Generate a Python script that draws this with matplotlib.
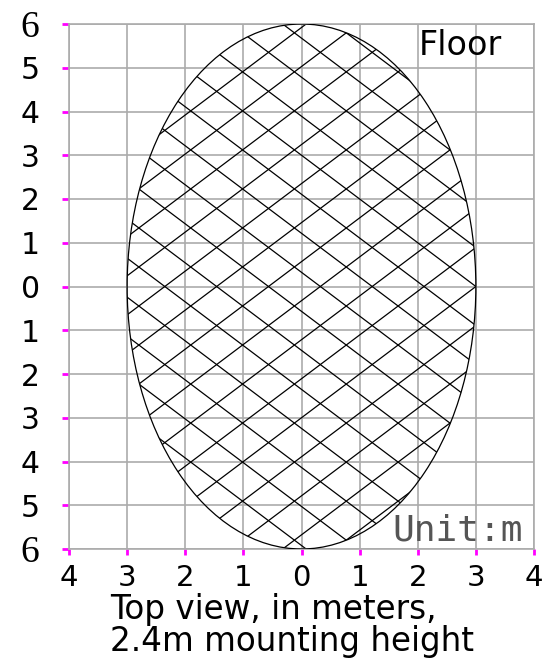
import numpy as np
import matplotlib
matplotlib.use("Agg")
import matplotlib.pyplot as plt
from matplotlib.patches import Ellipse

# beam footprint (meters)
semi_x = 3.0
semi_y = 6.0
hatch_step = 0.892

x_ticks = [-4, -3, -2, -1, 0, 1, 2, 3, 4]
x_labels = ["4", "3", "2", "1", "0", "1", "2", "3", "4"]
y_ticks = [6, 5, 4, 3, 2, 1, 0, -1, -2, -3, -4, -5, -6]
y_labels = ["6", "5", "4", "3", "2", "1", "0", "1", "2", "3", "4", "5", "6"]

plt.rcParams['font.family'] = ['DejaVu Sans']

W, H = 555, 661
fig = plt.figure(figsize=(W / 100, H / 100), dpi=100)
ax = fig.add_axes([69 / W, 1 - 549 / H, (534 - 69) / W, (549 - 24) / H])
ax.set_xlim(-4, 4)
ax.set_ylim(-6, 6)

gray = "#ababab"
for v in x_ticks:
    ax.axvline(v, color=gray, lw=1.2, zorder=1)
for v in y_ticks:
    ax.axhline(v, color=gray, lw=1.2, zorder=1)
for s in ax.spines.values():
    s.set_color(gray)
    s.set_linewidth(1.2)

# ellipse outline
ell = Ellipse((0, 0), 2 * semi_x, 2 * semi_y, fill=False, ec="black", lw=0.9, zorder=3)
ax.add_patch(ell)

# cross hatching clipped to the ellipse
clip = Ellipse((0, 0), 2 * semi_x, 2 * semi_y, fill=False, ec="none", transform=ax.transData)
ax.add_patch(clip)
xs = np.array([-5.0, 5.0])
for k in range(-20, 21):
    a = -semi_x + k * hatch_step
    ln, = ax.plot(xs, xs + a, color="black", lw=0.9, zorder=2)
    ln.set_clip_path(clip)
    b = semi_x + k * hatch_step
    ln, = ax.plot(xs, -xs + b, color="black", lw=0.9, zorder=2)
    ln.set_clip_path(clip)

ax.set_xticks(x_ticks)
ax.set_xticklabels(x_labels, fontsize=21)
ax.set_yticks(y_ticks)
ax.set_yticklabels(y_labels, fontsize=21.5, ha="center")
ax.tick_params(axis="y", colors="#ff00ff", length=5, width=2, pad=23, labelcolor="black")
ax.tick_params(axis="x", colors="#ff00ff", length=4, width=2, pad=7, labelcolor="black")
for lab in ax.get_yticklabels():
    if lab.get_text() == "6":
        lab.set_fontfamily(["Liberation Serif", "DejaVu Serif"])
        lab.set_fontsize(27)

ax.text(2.74, 5.29, "Floor", fontsize=24, ha="center", va="baseline", zorder=4)
ax.text(3.81, -5.57, "Unit:m", fontsize=26, family="DejaVu Sans Mono", color="#555555",
        ha="right", va="center", zorder=4)

fig.text(110 / W, 1 - 593 / H, "Top view, in meters,\n2.4m mounting height", fontsize=23.5,
         ha="left", va="top", multialignment="left", linespacing=0.96)

fig.savefig("out.png", dpi=100)
